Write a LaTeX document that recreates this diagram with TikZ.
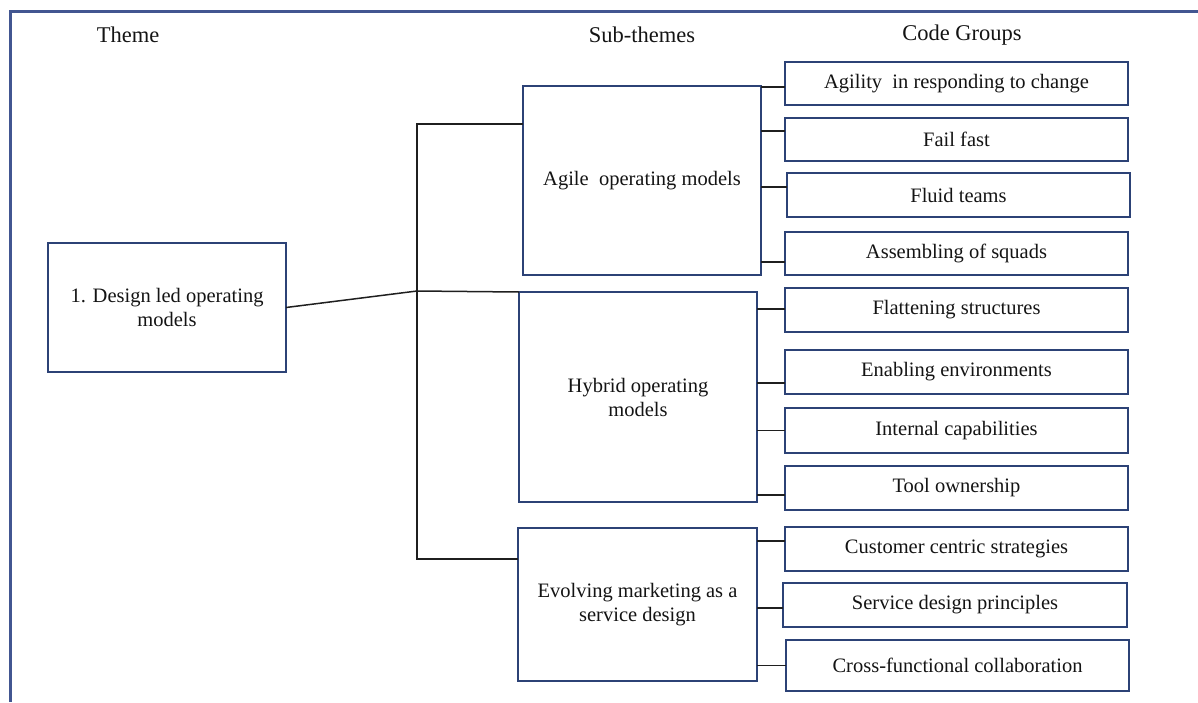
\documentclass[tikz,border=0pt]{standalone}
\usepackage{fontspec}
\setmainfont{Liberation Serif}
\definecolor{boxblue}{RGB}{44,66,118}
\definecolor{framebl}{RGB}{66,86,145}
\tikzset{
  bodytext/.style={font=\fontsize{20.5}{24}\selectfont, align=center, text=black!92},
  headtext/.style={font=\fontsize{22.5}{26}\selectfont, text=black!92},
  tbox/.style={draw=boxblue, line width=2.9pt, fill=white, inner sep=0pt, outer sep=0pt, bodytext},
  codebox/.style={tbox, minimum width=343pt, minimum height=43pt},
  subbox/.style={tbox, minimum width=238pt},
  link/.style={draw=black!88, line width=1.5pt},
  framestyle/.style={draw=framebl, line width=3pt}
}
\begin{document}
\begin{tikzpicture}[x=1pt,y=-1pt]
\useasboundingbox (0,0) rectangle (1198,702);
% page frame (top and left rules)
\draw[framestyle] (1198,11) -- (10,11) -- (10,702);

% column headings
\node[headtext] (hTheme) at (128,35) {Theme};
\node[headtext] (hSub) at (642,35) {Sub-themes};
\node[headtext] (hCode) at (962,35) {Code Groups};

% theme
\node[tbox, minimum width=238pt, minimum height=129pt] (theme) at (167,307.5) {1. Design led operating\\models};

% sub-themes
\node[subbox, minimum height=189pt] (agile) at (642,180.5) {Agile\ \ operating models};
\node[subbox, minimum height=210pt] (hybrid) at (638,397) {Hybrid operating\\models};
\node[subbox, minimum width=239pt, minimum height=153pt] (evolve) at (637.5,604.5) {Evolving marketing as a\\service design};

% code groups
\node[codebox] (c1) at (956.5,83.5) {Agility\ \ in responding to change};
\node[codebox] (c2) at (956.5,139.5) {Fail fast};
\node[codebox, minimum height=44pt] (c3) at (958.5,195) {Fluid teams};
\node[codebox] (c4) at (956.5,253.5) {Assembling of squads};
\node[codebox, minimum height=44pt] (c5) at (956.5,310) {Flattening structures};
\node[codebox, minimum height=44pt] (c6) at (956.5,372) {Enabling environments};
\node[codebox, minimum height=45pt] (c7) at (956.5,430.5) {Internal capabilities};
\node[codebox, minimum height=44pt] (c8) at (956.5,488) {Tool ownership};
\node[codebox, minimum height=44pt] (c9) at (956.5,549) {Customer centric strategies};
\node[codebox, minimum width=344pt, minimum height=44pt] (c10) at (955,605) {Service design principles};
\node[codebox, minimum height=51pt] (c11) at (957.5,665.5) {Cross-functional collaboration};

% trunk joining theme to sub-themes
\coordinate (tTop) at (417,124);
\coordinate (tBot) at (417,559);
\coordinate (tMid) at (417,291);
\draw[link] (agile.west |- tTop) -- (tTop) -- (tBot) -- (evolve.west |- tBot);
\draw[link] (theme.east) -- (tMid) -- (hybrid.north west);

% branches from sub-themes to code groups
\draw[link] ([yshift=-3.5pt]agile.east |- c1.west) -- ([yshift=-3.5pt]c1.west);
\draw[link] ([yshift=8.5pt]agile.east |- c2.west) -- ([yshift=8.5pt]c2.west);
\draw[link] ([yshift=8pt]agile.east |- c3.west) -- ([yshift=8pt]c3.west);
\draw[link] ([yshift=-8.5pt]agile.east |- c4.west) -- ([yshift=-8.5pt]c4.west);

\draw[link] ([yshift=1pt]hybrid.east |- c5.west) -- ([yshift=1pt]c5.west);
\draw[link] ([yshift=-11pt]hybrid.east |- c6.west) -- ([yshift=-11pt]c6.west);
\draw[link] (hybrid.east |- c7.west) -- (c7.west);
\draw[link] ([yshift=-7pt]hybrid.east |- c8.west) -- ([yshift=-7pt]c8.west);

\draw[link] ([yshift=8pt]evolve.east |- c9.west) -- ([yshift=8pt]c9.west);
\draw[link] ([yshift=-3pt]evolve.east |- c10.west) -- ([yshift=-3pt]c10.west);
\draw[link] (evolve.east |- c11.west) -- (c11.west);
\end{tikzpicture}
\end{document}
